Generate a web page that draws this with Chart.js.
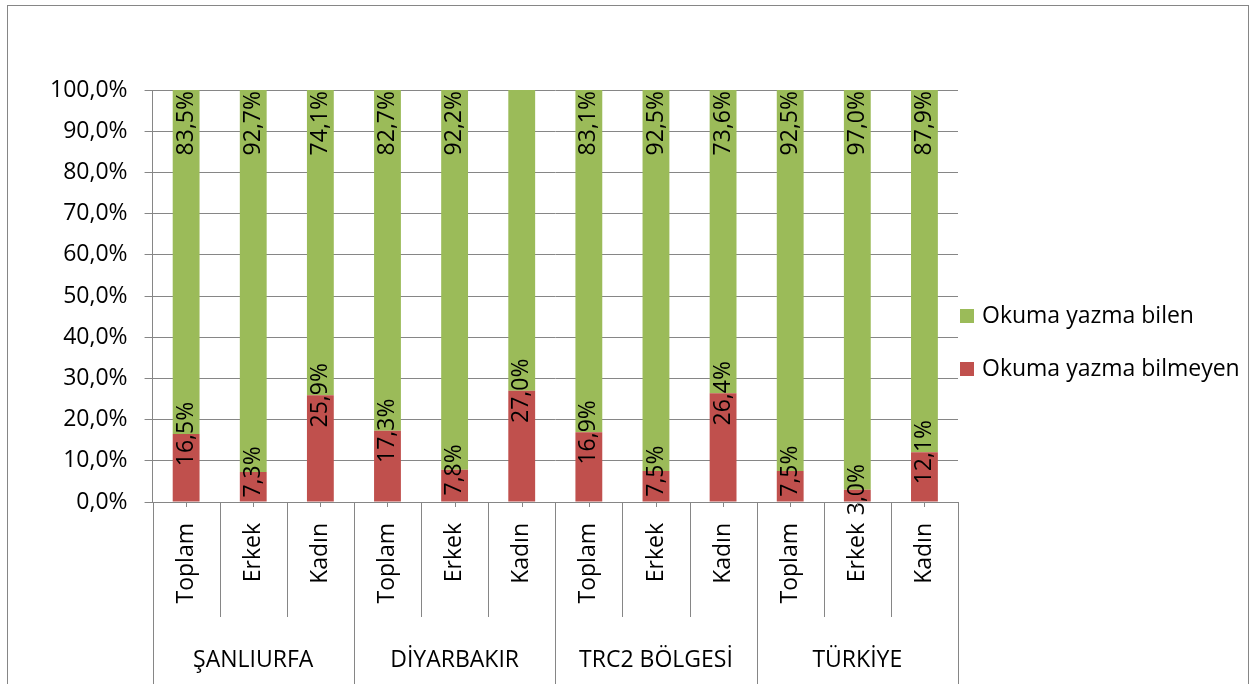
<!DOCTYPE html>
<html>
<head>
<meta charset="utf-8">
<script src="https://cdn.jsdelivr.net/npm/chart.js@4/dist/chart.umd.min.js"></script>
<style>
  body { margin: 0; background: #fff; }
  canvas { display: block; }
</style>
</head>
<body>
<canvas id="myChart" width="1256" height="684"></canvas>
<script>
var groups = ['ŞANLIURFA', 'DİYARBAKIR', 'TRC2 BÖLGESİ', 'TÜRKİYE'];
var subLabels = ['Toplam', 'Erkek', 'Kadın', 'Toplam', 'Erkek', 'Kadın', 'Toplam', 'Erkek', 'Kadın', 'Toplam', 'Erkek', 'Kadın'];
var bilmeyen = [16.5, 7.3, 25.9, 17.3, 7.8, 27.0, 16.9, 7.5, 26.4, 7.5, 3.0, 12.1];
var bilen = [83.5, 92.7, 74.1, 82.7, 92.2, 73.0, 83.1, 92.5, 73.6, 92.5, 97.0, 87.9];
// the reference shows no label on this green bar
var hiddenBilenLabels = [5];

var FONT = 'Open Sans';
var FSIZE = 23;
var GRID = '#868686';

function pct(v) {
    return v.toFixed(1).replace('.', ',') + '%';
}

var frame = {
    id: 'frame',
    beforeDraw: function (chart) {
        var ctx = chart.ctx;
        ctx.save();
        ctx.strokeStyle = GRID;
        ctx.lineWidth = 1;
        ctx.strokeRect(7.5, 5.5, 1241, 720);
        ctx.restore();
    }
};

var barLabels = {
    id: 'barLabels',
    afterDatasetsDraw: function (chart) {
        var ctx = chart.ctx;
        ctx.save();
        ctx.font = FSIZE + 'px "' + FONT + '"';
        ctx.fillStyle = '#000';
        ctx.textBaseline = 'middle';
        chart.data.datasets.forEach(function (ds, d) {
            var meta = chart.getDatasetMeta(d);
            meta.data.forEach(function (el, i) {
                if (d === 1 && hiddenBilenLabels.indexOf(i) >= 0) return;
                ctx.save();
                if (d === 0) {
                    ctx.translate(el.x, el.y);
                    ctx.textAlign = 'center';
                } else {
                    ctx.translate(el.x, el.y + 1);
                    ctx.textAlign = 'right';
                }
                ctx.rotate(-Math.PI / 2);
                ctx.fillText(pct(ds.data[i]), 0, 0);
                ctx.restore();
            });
        });
        ctx.restore();
    }
};

var groupAxis = {
    id: 'groupAxis',
    afterDraw: function (chart) {
        var ctx = chart.ctx;
        var xs = chart.scales.x;
        var bottom = chart.chartArea.bottom;
        var half = (xs.getPixelForValue(1) - xs.getPixelForValue(0)) / 2;
        ctx.save();
        ctx.strokeStyle = GRID;
        ctx.lineWidth = 1;
        for (var i = 0; i <= subLabels.length; i++) {
            var bx = Math.round(xs.getPixelForValue(i) - half) + 0.5;
            ctx.beginPath();
            ctx.moveTo(bx, bottom);
            ctx.lineTo(bx, i % 3 === 0 ? 700 : 617);
            ctx.stroke();
        }
        for (var j = 0; j < subLabels.length; j++) {
            var cx = Math.round(xs.getPixelForValue(j)) + 0.5;
            ctx.beginPath();
            ctx.moveTo(cx, bottom);
            ctx.lineTo(cx, bottom + 5);
            ctx.stroke();
        }
        ctx.fillStyle = '#000';
        ctx.font = FSIZE + 'px "' + FONT + '"';
        ctx.textBaseline = 'middle';
        subLabels.forEach(function (lab, k) {
            ctx.save();
            ctx.translate(xs.getPixelForValue(k), bottom + 21);
            ctx.rotate(-Math.PI / 2);
            ctx.textAlign = 'right';
            ctx.fillText(lab, 0, 0);
            ctx.restore();
        });
        ctx.textAlign = 'center';
        groups.forEach(function (g, k) {
            var gx = xs.getPixelForValue(k * 3 + 1);
            ctx.fillText(g, gx, 660);
        });

        // legend, green entry first
        var area = chart.chartArea;
        var lx = area.right + 2;
        var items = [1, 0];
        ctx.textAlign = 'left';
        items.forEach(function (d, k) {
            var ds = chart.data.datasets[d];
            var ly = 316 + k * 53;
            ctx.fillStyle = ds.backgroundColor;
            ctx.fillRect(lx, ly - 7, 14, 14);
            ctx.fillStyle = '#000';
            ctx.fillText(ds.label, lx + 22, ly);
        });
        ctx.restore();
    }
};

var ctx = document.getElementById('myChart').getContext('2d');

var chart = new Chart(ctx, {
    type: 'bar',
    data: {
        labels: subLabels,
        datasets: [
            {
                label: 'Okuma yazma bilmeyen',
                backgroundColor: '#C0504D',
                data: bilmeyen
            },
            {
                label: 'Okuma yazma bilen',
                backgroundColor: '#9BBB59',
                data: bilen
            }
        ]
    },
    options: {
        responsive: false,
        animation: false,
        layout: { padding: { left: 33, top: 90, right: 298, bottom: 0 } },
        datasets: {
            bar: { categoryPercentage: 1, barPercentage: 0.4 }
        },
        plugins: {
            legend: { display: false },
            tooltip: { enabled: false }
        },
        scales: {
            x: {
                stacked: true,
                grid: { display: false },
                border: { display: false },
                ticks: { display: false },
                afterFit: function (s) { s.height = 182; }
            },
            y: {
                stacked: true,
                min: 0,
                max: 100,
                grid: { color: GRID, tickLength: 8 },
                border: { color: GRID },
                ticks: {
                    stepSize: 10,
                    padding: 17,
                    color: '#000',
                    font: { family: FONT, size: FSIZE },
                    callback: function (v) { return pct(v); }
                }
            }
        }
    },
    plugins: [frame, barLabels, groupAxis]
});
</script>
</body>
</html>
